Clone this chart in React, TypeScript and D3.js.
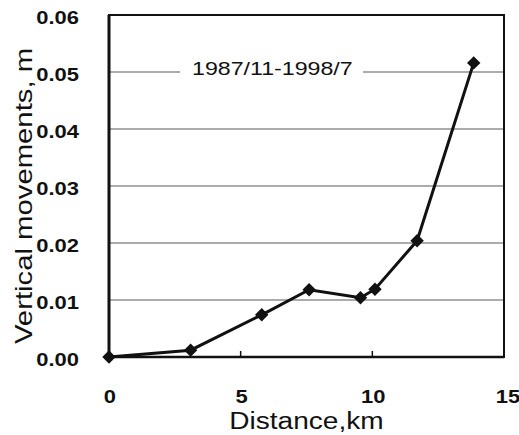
import React, { useEffect, useRef } from "react";
import * as d3 from "d3";

// distance along the profile (km) and vertical movement (m)
const distance = [0, 3.1, 5.8, 7.6, 9.55, 10.1, 11.7, 13.85];
const movement = [0, 0.0012, 0.0074, 0.0118, 0.0104, 0.0119, 0.0204, 0.0516];

const xTicks = [0, 5, 10, 15];
const yTicks = [0, 0.01, 0.02, 0.03, 0.04, 0.05, 0.06];
const periodLabel = "1987/11-1998/7";

const W = 519;
const H = 435;
const FONT = "Arial, 'Liberation Sans', sans-serif";
// the scanned text is a bit wider than Arial
const STRETCH = 1.22;

const App = () => {
  const ref = useRef<SVGSVGElement>(null);

  useEffect(() => {
    const svg = d3.select(ref.current);
    svg.selectAll("*").remove();

    const left = 109, right = 504, top = 15, bottom = 357;

    const x = d3.scaleLinear().domain([0, 15]).range([left, right]);
    const y = d3.scaleLinear().domain([0, 0.06]).range([bottom, top]);

    const widen = (sel: any) =>
      sel.each(function (this: SVGTextElement) {
        const len = this.getComputedTextLength();
        d3.select(this)
          .attr("textLength", len * STRETCH)
          .attr("lengthAdjust", "spacingAndGlyphs");
      });

    // gridlines
    svg
      .append("g")
      .selectAll("line")
      .data(yTicks.filter((t) => t > 0 && t < 0.06))
      .join("line")
      .attr("x1", left)
      .attr("x2", right)
      .attr("y1", (d) => y(d))
      .attr("y2", (d) => y(d))
      .attr("stroke", "#5a5a5a")
      .attr("stroke-width", 1.2);

    // label over the 0.05 line, with a white gap behind it
    svg
      .append("rect")
      .attr("x", 180)
      .attr("y", y(0.05) - 12)
      .attr("width", 183)
      .attr("height", 22)
      .attr("fill", "white");
    svg
      .append("text")
      .attr("x", 192)
      .attr("y", y(0.05) + 3)
      .attr("font-family", FONT)
      .attr("font-size", 19)
      .attr("fill", "#111")
      .text(periodLabel)
      .call(widen);

    // frame
    svg
      .append("rect")
      .attr("x", left)
      .attr("y", top)
      .attr("width", right - left)
      .attr("height", bottom - top)
      .attr("fill", "none")
      .attr("stroke", "#111")
      .attr("stroke-width", 2);
    svg
      .append("line")
      .attr("x1", left)
      .attr("x2", left)
      .attr("y1", top)
      .attr("y2", bottom)
      .attr("stroke", "#111")
      .attr("stroke-width", 3);
    svg
      .append("line")
      .attr("x1", left)
      .attr("x2", right)
      .attr("y1", bottom)
      .attr("y2", bottom)
      .attr("stroke", "#111")
      .attr("stroke-width", 2.5);

    // inward x ticks
    svg
      .append("g")
      .selectAll("line")
      .data(xTicks.filter((t) => t > 0 && t < 15))
      .join("line")
      .attr("x1", (d) => x(d))
      .attr("x2", (d) => x(d))
      .attr("y1", bottom)
      .attr("y2", bottom - 6)
      .attr("stroke", "#111")
      .attr("stroke-width", 1.5);

    // tick labels
    svg
      .append("g")
      .selectAll("text")
      .data(yTicks)
      .join("text")
      .attr("x", 79)
      .attr("y", (d) => y(d) + 9)
      .attr("text-anchor", "end")
      .attr("font-family", FONT)
      .attr("font-weight", "bold")
      .attr("font-size", 18)
      .attr("fill", "#111")
      .text((d) => d3.format(".2f")(d))
      .call(widen);

    svg
      .append("g")
      .selectAll("text")
      .data(xTicks)
      .join("text")
      .attr("x", (d) => x(d) + (d === 15 ? 4 : 1))
      .attr("y", 403)
      .attr("text-anchor", "middle")
      .attr("font-family", FONT)
      .attr("font-weight", "bold")
      .attr("font-size", 18)
      .attr("fill", "#111")
      .text((d) => String(d))
      .call(widen);

    // axis titles
    svg
      .append("text")
      .attr("x", (left + right) / 2)
      .attr("y", 429)
      .attr("text-anchor", "middle")
      .attr("font-family", FONT)
      .attr("font-size", 23)
      .attr("fill", "#111")
      .text("Distance,km")
      .call(widen);

    svg
      .append("text")
      .attr("transform", "translate(32,196) rotate(-90)")
      .attr("text-anchor", "middle")
      .attr("font-family", FONT)
      .attr("font-size", 24)
      .attr("fill", "#111")
      .text("Vertical movements, m")
      .call(widen);

    // series
    const pts = distance.map((d, i) => [d, movement[i]] as [number, number]);
    const line = d3
      .line<[number, number]>()
      .x((d) => x(d[0]))
      .y((d) => y(d[1]));

    svg
      .append("path")
      .attr("d", line(pts))
      .attr("fill", "none")
      .attr("stroke", "#111")
      .attr("stroke-width", 3);

    const diamond = d3.symbol().type(d3.symbolSquare).size(90);
    svg
      .append("g")
      .selectAll("path")
      .data(pts)
      .join("path")
      .attr("d", diamond())
      .attr("transform", (d) => `translate(${x(d[0])},${y(d[1])}) rotate(45)`)
      .attr("fill", "#111");
  }, []);

  return (
    <svg
      ref={ref}
      width={W}
      height={H}
      style={{ position: "absolute", left: 0, top: 0, background: "white" }}
    ></svg>
  );
};

export default App;
